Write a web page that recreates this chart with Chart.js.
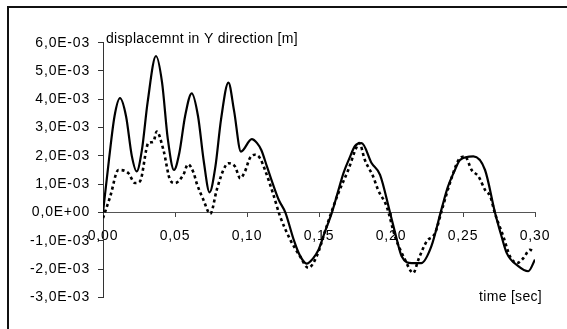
<!DOCTYPE html>
<html>
<head>
<meta charset="utf-8">
<script src="https://cdn.jsdelivr.net/npm/chart.js@4.4.1/dist/chart.umd.min.js"></script>
<style>
  html, body { margin: 0; padding: 0; background: #fff; }
  #wrap { position: relative; width: 567px; height: 329px; overflow: hidden; }
  #frame { position: absolute; left: 7px; top: 6px; width: 700px; height: 500px;
           border-top: 2px solid #111; border-left: 2px solid #111; }
  canvas { position: absolute; left: 0; top: 0; }
</style>
</head>
<body>
<div id="wrap">
  <div id="frame"></div>
  <canvas id="c" width="567" height="329"></canvas>
</div>
<script>
// ---- data (time in s, displacement in m) ----
const solidT = [0.000,0.004,0.008,0.0118,0.016,0.020,0.0234,0.027,0.031,0.0368,0.041,0.045,0.0493,0.053,0.057,0.0616,0.066,0.070,0.074,0.078,0.082,0.0871,0.091,0.0958,0.1033,0.107,0.110,0.114,0.118,0.122,0.1266,0.1324,0.1365,0.1415,0.1455,0.1497,0.154,0.159,0.163,0.167,0.171,0.175,0.1796,0.1866,0.1924,0.1993,0.2035,0.2074,0.2144,0.221,0.228,0.235,0.2395,0.2444,0.248,0.2572,0.2653,0.2722,0.2765,0.2803,0.2884,0.2953,0.300];
const solidV = [0.0e-3,1.8e-3,3.4e-3,4.04e-3,3.4e-3,2.0e-3,1.45e-3,2.2e-3,3.9e-3,5.53e-3,4.6e-3,2.6e-3,1.5e-3,2.1e-3,3.4e-3,4.21e-3,3.4e-3,1.8e-3,0.71e-3,1.6e-3,3.3e-3,4.59e-3,3.6e-3,2.15e-3,2.59e-3,2.45e-3,2.2e-3,1.6e-3,1.0e-3,0.45e-3,0.0e-3,-0.96e-3,-1.5e-3,-1.81e-3,-1.65e-3,-1.32e-3,-0.7e-3,0.0e-3,0.7e-3,1.39e-3,1.9e-3,2.35e-3,2.45e-3,1.74e-3,1.33e-3,0.0e-3,-0.85e-3,-1.55e-3,-1.79e-3,-1.79e-3,-1.2e-3,0.1e-3,0.9e-3,1.5e-3,1.86e-3,1.98e-3,1.5e-3,0.0e-3,-0.8e-3,-1.43e-3,-1.9e-3,-2.08e-3,-1.67e-3];

const dottedT = [0.000,0.005,0.0107,0.0176,0.0222,0.0257,0.0315,0.035,0.0373,0.042,0.0466,0.050,0.0558,0.059,0.063,0.065,0.0697,0.0745,0.079,0.0836,0.087,0.0917,0.0953,0.0986,0.102,0.1055,0.109,0.1125,0.118,0.123,0.130,0.1368,0.1426,0.1484,0.1553,0.1634,0.1703,0.176,0.178,0.1818,0.1876,0.191,0.197,0.2028,0.2097,0.2155,0.219,0.2248,0.2306,0.2354,0.2424,0.247,0.2514,0.256,0.2608,0.2653,0.269,0.272,0.278,0.2826,0.2875,0.292,0.2965,0.299];
const dottedV = [-0.2e-3,0.56e-3,1.5e-3,1.39e-3,1.04e-3,1.1e-3,2.45e-3,2.5e-3,2.86e-3,2.2e-3,1.15e-3,1.04e-3,1.33e-3,1.7e-3,1.39e-3,1.04e-3,0.45e-3,-0.05e-3,0.8e-3,1.5e-3,1.74e-3,1.62e-3,1.21e-3,1.45e-3,1.92e-3,2.04e-3,1.92e-3,1.5e-3,0.68e-3,-0.14e-3,-0.96e-3,-1.55e-3,-1.96e-3,-1.55e-3,-0.49e-3,0.68e-3,1.5e-3,2.3e-3,2.45e-3,1.86e-3,1.27e-3,0.8e-3,0.21e-3,-0.85e-3,-1.67e-3,-2.14e-3,-1.67e-3,-1.02e-3,-0.73e-3,0.1e-3,1.27e-3,1.86e-3,1.98e-3,1.5e-3,1.27e-3,0.8e-3,0.56e-3,0.0e-3,-0.85e-3,-1.55e-3,-1.79e-3,-1.61e-3,-1.32e-3,-1.38e-3];

const xTicks = [0, 0.05, 0.10, 0.15, 0.20, 0.25, 0.30];
const xTickLabels = ['0,00','0,05','0,10','0,15','0,20','0,25','0,30'];
const yTicks = [-3e-3,-2e-3,-1e-3,0,1e-3,2e-3,3e-3,4e-3,5e-3,6e-3];
const yTickLabels = ['-3,0E-03','-2,0E-03','-1,0E-03','0,0E+00','1,0E-03','2,0E-03','3,0E-03','4,0E-03','5,0E-03','6,0E-03'];

const yTitle = 'displacemnt in Y direction [m]';
const xTitle = 'time [sec]';

const FONT = '"Liberation Sans", Arial, sans-serif';

const toPts = (t, v) => t.map((x, i) => ({x: x, y: v[i]}));

const spacingPlugin = {
  id: 'spacing',
  beforeDraw(chart) { chart.ctx.letterSpacing = '0.8px'; }
};

const titlePlugin = {
  id: 'axisTitles',
  afterDraw(chart) {
    const ctx = chart.ctx;
    ctx.save();
    ctx.letterSpacing = '0.3px';
    ctx.font = '14px ' + FONT;
    ctx.fillStyle = '#000';
    ctx.textBaseline = 'alphabetic';
    ctx.textAlign = 'left';
    ctx.fillText(yTitle, chart.chartArea.left + 3, 43);
    ctx.textAlign = 'right';
    ctx.fillText(xTitle, 542, 301);
    ctx.restore();
  }
};

new Chart(document.getElementById('c'), {
  type: 'line',
  data: {
    datasets: [
      {
        label: 'solid',
        data: toPts(solidT, solidV),
        borderColor: '#000',
        borderWidth: 2.2,
        pointRadius: 0,
        cubicInterpolationMode: 'monotone',
        fill: false
      },
      {
        label: 'dotted',
        data: toPts(dottedT, dottedV),
        borderColor: '#000',
        borderWidth: 2.6,
        borderDash: [3, 3],
        pointRadius: 0,
        cubicInterpolationMode: 'monotone',
        fill: false
      }
    ]
  },
  options: {
    responsive: false,
    devicePixelRatio: 1,
    animation: false,
    layout: { padding: { left: 0, top: 42.7, right: 32, bottom: 31.7 } },
    plugins: { legend: { display: false }, tooltip: { enabled: false }, title: { display: false } },
    scales: {
      x: {
        type: 'linear',
        position: { y: 0 },
        min: 0, max: 0.30,
        afterBuildTicks: s => { s.ticks = xTicks.map(v => ({value: v})); },
        afterFit: s => { s.height = 0; },
        ticks: {
          autoSkip: false,
          maxRotation: 0,
          padding: 11,
          color: '#000',
          font: { family: FONT, size: 14 },
          callback: (v, i) => xTickLabels[i]
        },
        grid: { drawOnChartArea: false, drawTicks: true, tickLength: 4, color: '#444' },
        border: { display: true, color: '#555', width: 1 }
      },
      y: {
        type: 'linear',
        position: 'left',
        min: -3e-3, max: 6e-3,
        afterBuildTicks: s => { s.ticks = yTicks.map(v => ({value: v})); },
        afterFit: s => { s.width = 103; },
        ticks: {
          autoSkip: false,
          padding: 8,
          color: '#000',
          font: { family: FONT, size: 14 },
          callback: (v, i) => yTickLabels[i]
        },
        grid: { drawOnChartArea: false, drawTicks: true, tickLength: 5, color: '#333' },
        border: { display: true, color: '#333', width: 1 }
      }
    }
  },
  plugins: [spacingPlugin, titlePlugin]
});
</script>
</body>
</html>
